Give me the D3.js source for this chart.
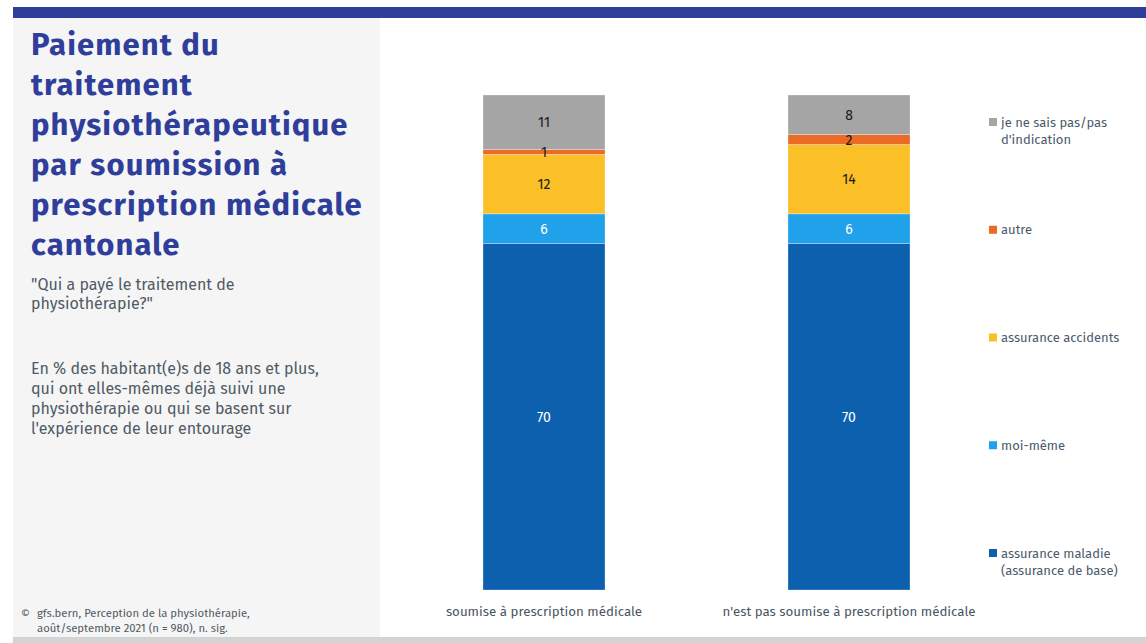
<!DOCTYPE html>
<html>
<head>
<meta charset="utf-8">
<script src="https://cdn.jsdelivr.net/npm/d3@7/dist/d3.min.js"></script>
<style>
  html, body { margin: 0; padding: 0; background: #fff; }
  svg { display: block; }
  text { font-family: "Fira Sans", Lato, "Noto Sans", sans-serif; }
</style>
</head>
<body>
<svg id="chart" width="1146" height="643"></svg>
<script>
// Groups (x axis)
const categories = ["soumise à prescription médicale", "n'est pas soumise à prescription médicale"];
// Series, stacked from bottom to top
const seriesNames = [
  "assurance maladie (assurance de base)",
  "moi-même",
  "assurance accidents",
  "autre",
  "je ne sais pas/pas d'indication"
];
const legendLines = [
  ["assurance maladie", "(assurance de base)"],
  ["moi-même"],
  ["assurance accidents"],
  ["autre"],
  ["je ne sais pas/pas", "d'indication"]
];
const assuranceMaladie = [70, 70];
const moiMeme = [6, 6];
const assuranceAccidents = [12, 14];
const autre = [1, 2];
const neSaisPas = [11, 8];
const seriesColors = ["#0d60ae", "#1fa2ea", "#fbbf27", "#e96b25", "#a5a5a5"];
const labelColors = ["#ffffff", "#ffffff", "#1a1a1a", "#1a1a1a", "#1a1a1a"];

const titleLines = ["Paiement du", "traitement", "physiothérapeutique", "par soumission à", "prescription médicale", "cantonale"];
const questionLines = ["\"Qui a payé le traitement de", "physiothérapie?\""];
const baseLines = ["En % des habitant(e)s de 18 ans et plus,", "qui ont elles-mêmes déjà suivi une", "physiothérapie ou qui se basent sur", "l'expérience de leur entourage"];
const sourceLines = ["gfs.bern, Perception de la physiothérapie,", "août/septembre 2021 (n = 980), n. sig."];

const svg = d3.select("#chart");

// Frame: header band, side panel, footer strip
svg.append("rect").attr("x", 13).attr("y", 7).attr("width", 1133).attr("height", 11).attr("fill", "#2f3e9b");
svg.append("rect").attr("x", 13).attr("y", 18).attr("width", 367).attr("height", 619).attr("fill", "#f5f5f5");
svg.append("rect").attr("x", 13).attr("y", 637).attr("width", 1133).attr("height", 6).attr("fill", "#d2d4d4");

// Side panel texts
const title = svg.append("text")
  .attr("fill", "#2f3e9b").attr("font-weight", "bold").attr("font-size", 31)
  .attr("letter-spacing", 1.1);
titleLines.forEach((t, i) => title.append("tspan").attr("x", 31).attr("y", 55 + i * 40).text(t));

const q = svg.append("text").attr("fill", "#505a64").attr("font-size", 16);
questionLines.forEach((t, i) => q.append("tspan").attr("x", 31).attr("y", 290 + i * 19).text(t));

const b = svg.append("text").attr("fill", "#505a64").attr("font-size", 16);
baseLines.forEach((t, i) => b.append("tspan").attr("x", 31).attr("y", 374 + i * 20).text(t));

svg.append("text").attr("x", 21).attr("y", 617).attr("fill", "#505a64").attr("font-size", 11).text("©");
const s = svg.append("text").attr("fill", "#505a64").attr("font-size", 11.3);
sourceLines.forEach((t, i) => s.append("tspan").attr("x", 37).attr("y", 617 + i * 15).text(t));

// Stacked bars
const table = categories.map((c, i) => ({
  category: c,
  [seriesNames[0]]: assuranceMaladie[i],
  [seriesNames[1]]: moiMeme[i],
  [seriesNames[2]]: assuranceAccidents[i],
  [seriesNames[3]]: autre[i],
  [seriesNames[4]]: neSaisPas[i]
}));
const stacked = d3.stack().keys(seriesNames)(table);

const x = d3.scaleBand().domain(categories).range([391.5, 1001.5]).paddingInner(0.6).paddingOuter(0.3);
const y = d3.scaleLinear().domain([0, 100]).range([590, 95]);

const layers = svg.append("g").selectAll("g").data(stacked).join("g")
  .attr("fill", (d, i) => seriesColors[i]);

layers.selectAll("rect").data(d => d.map(v => ({ v, cat: v.data.category }))).join("rect")
  .attr("x", d => x(d.cat))
  .attr("width", x.bandwidth())
  .attr("y", d => y(d.v[1]))
  .attr("height", d => y(d.v[0]) - y(d.v[1]))
  .attr("stroke", "rgba(255,255,255,0.35)")
  .attr("stroke-width", 0.8);

// Value labels drawn above every segment
const labels = svg.append("g").selectAll("g").data(stacked).join("g")
  .attr("fill", (d, i) => labelColors[i]);
labels.selectAll("text").data(d => d).join("text")
  .attr("x", d => x(d.data.category) + x.bandwidth() / 2)
  .attr("y", d => (y(d[0]) + y(d[1])) / 2 + 5)
  .attr("text-anchor", "middle")
  .attr("font-size", 14)
  .text(d => d[1] - d[0]);

// Category axis labels
const xAxis = d3.axisBottom(x).tickSize(0).tickPadding(12);
const gx = svg.append("g").attr("transform", "translate(0,595)").call(xAxis);
gx.select(".domain").remove();
gx.selectAll("text").attr("font-size", 13.3).attr("fill", "#4a5560")
  .attr("font-family", "\"Fira Sans\", Lato, \"Noto Sans\", sans-serif");

// Legend, top item = top of stack
const legendY = d3.scalePoint().domain(d3.range(5)).range([553, 122]);
const lg = svg.append("g").selectAll("g").data(seriesNames).join("g")
  .attr("transform", (d, i) => `translate(989,${legendY(i)})`);
lg.append("rect").attr("x", 0).attr("y", -4).attr("width", 8).attr("height", 8)
  .attr("fill", (d, i) => seriesColors[i]);
lg.append("text").attr("fill", "#4a5a6a").attr("font-size", 13)
  .each(function (d, i) {
    legendLines[i].forEach((t, k) => d3.select(this).append("tspan")
      .attr("x", 12).attr("y", 4.5 + k * 17).text(t));
  });
</script>
</body>
</html>
